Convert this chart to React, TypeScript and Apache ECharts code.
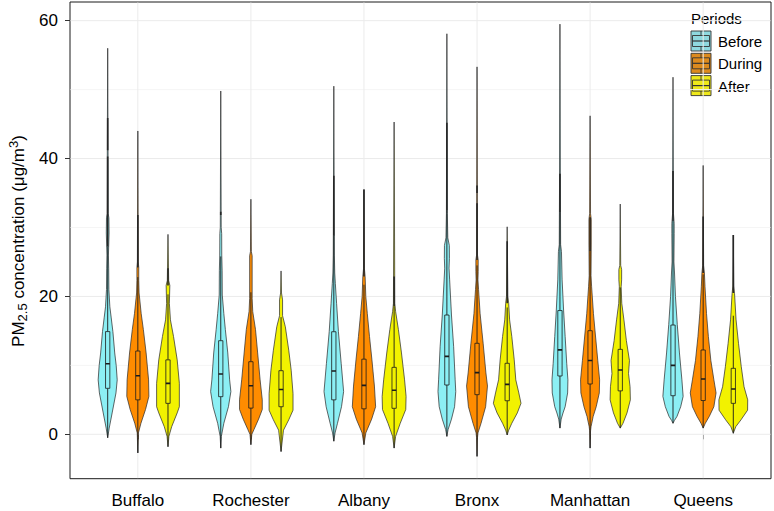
import React, { useEffect, useRef } from 'react';
import * as echarts from 'echarts';

// ---------- data ----------
const cities = ['Buffalo', 'Rochester', 'Albany', 'Bronx', 'Manhattan', 'Queens'];
const periods = ['Before', 'During', 'After'];
const yTicks = [0, 20, 40, 60];
const yMinorTicks = [10, 30, 50];
const xTicks = [1, 2, 3, 4, 5, 6];

// box statistics, one value per city (µg/m3)
const beforeMin = [-0.5, -2.0, -1.0, -0.3, 0.9, 1.6];
const beforeQ1 = [6.67, 5.46, 5.0, 7.15, 8.46, 5.6];
const beforeMedian = [10.24, 8.75, 9.18, 11.3, 12.25, 10.0];
const beforeQ3 = [14.9, 13.58, 14.88, 17.3, 17.95, 15.85];
const beforeWhiskerHigh = [27.2, 25.8, 28.8, 32.5, 32.2, 30.9];
const beforeMax = [56.0, 49.8, 50.5, 58.1, 59.5, 51.8];

const duringMin = [-2.7, -1.5, -1.5, -3.2, -2.0, 0.9];
const duringQ1 = [5.0, 3.8, 3.7, 5.75, 7.3, 4.9];
const duringMedian = [8.5, 7.05, 7.1, 8.95, 10.7, 8.02];
const duringQ3 = [12.08, 10.53, 10.9, 13.2, 15.03, 12.23];
const duringWhiskerHigh = [22.8, 20.6, 21.7, 24.5, 26.6, 23.2];
const duringMax = [44.0, 34.1, 35.5, 53.3, 46.2, 39.0];

const afterMin = [-1.8, -2.5, -2.0, -0.1, 0.9, 0.15];
const afterQ1 = [4.49, 4.0, 3.77, 4.87, 6.3, 4.49];
const afterMedian = [7.39, 6.5, 6.4, 7.25, 9.33, 6.57];
const afterQ3 = [10.8, 9.23, 9.71, 10.3, 12.32, 9.57];
const afterWhiskerHigh = [20.3, 17.0, 18.6, 18.4, 21.3, 17.2];
const afterMax = [29.0, 23.7, 45.3, 30.1, 33.4, 28.9];

// kernel density outlines: [concentration, relative density width]
const beforeDensity = [
  [[-0.5, 0], [0.9, 3.3], [3.1, 9.7], [6.0, 18], [7.9, 20.7], [10, 18.5], [11.8, 15.3], [14.9, 11.3], [17, 7.5], [18.5, 4.7], [21, 2.6], [24, 2.2], [26, 1.6], [29.2, 3], [31.4, 2.6], [32, 1.2], [40, 0.9], [56.0, 0]],
  [[-2.0, 0], [-0.3, 1.3], [1.6, 6.7], [4.0, 16.7], [6.2, 22], [7.9, 19.3], [11.8, 15.3], [15.2, 10], [17.5, 6.7], [20.2, 3.3], [23.8, 3], [26, 2.2], [29.1, 2], [30, 1], [49.8, 0]],
  [[-1.0, 0], [0.2, 2.7], [1.6, 8], [4.0, 16.7], [6.2, 21.3], [10.3, 16], [14.9, 10], [19, 6], [21.9, 3.3], [23.4, 2], [26, 1.2], [50.5, 0]],
  [[-0.3, 0], [0.7, 2.7], [2.2, 10], [4.0, 16.7], [6.2, 19.3], [7.9, 18], [12.7, 14.7], [17.3, 10], [22.4, 6], [24.1, 4.7], [25.5, 5.5], [27.4, 5.3], [28.5, 2], [32, 1], [58.1, 0]],
  [[0.9, 0], [2.2, 2.7], [3.1, 6.7], [4.0, 11.3], [6.0, 16.7], [7.9, 17.3], [10.3, 14.7], [14.2, 11.3], [17.9, 8], [22.4, 4.7], [26.5, 3.3], [27.5, 1.5], [35, 1], [59.5, 0]],
  [[1.6, 0], [2.0, 3], [2.6, 8.7], [4.0, 16.7], [5.5, 22], [7.9, 19.3], [11.8, 14], [15.9, 9.3], [20.0, 5.3], [23.4, 3.3], [25, 2], [29.1, 2.5], [30.6, 2.5], [32, 1], [51.8, 0]],
];
const duringDensity = [
  [[-2.7, 0], [-0.5, 1], [0.2, 1.3], [1.6, 6.7], [3.6, 16.7], [5.5, 24], [7.9, 23.3], [11.8, 18], [15.2, 12], [17.5, 7.3], [20.5, 2.7], [22.3, 2], [24.2, 2], [25, 1], [44.0, 0]],
  [[-1.5, 0], [0, 2], [0.7, 6.7], [2.2, 16.7], [3.6, 24.7], [5.0, 24.7], [7.9, 20], [11.8, 14.7], [15.2, 10], [17.8, 4], [19.7, 2.7], [25.9, 2.7], [26.5, 1], [34.1, 0]],
  [[-1.5, 0], [0.2, 4], [2.2, 16.7], [4.0, 25.3], [7.0, 22.7], [10.8, 17.3], [14.2, 12], [17.5, 7.3], [20.0, 4], [22.9, 2.5], [24, 1], [35.5, 0]],
  [[-3.2, 0], [-0.5, 1], [0.2, 2], [1.6, 8.7], [4.0, 18.7], [7.0, 22.7], [8.9, 19.3], [13.2, 13.3], [17.5, 6.7], [21.0, 3.3], [22.4, 2], [23.6, 2.5], [25.3, 2.5], [26, 1], [53.3, 0]],
  [[-2.0, 0], [0.5, 1], [1.1, 2], [2.6, 6.7], [4.0, 13.3], [6.0, 20], [7.9, 20.7], [10.7, 16.7], [15.0, 10.7], [17.5, 7.3], [21.4, 3.3], [23, 2], [27.6, 2.5], [31.2, 2.5], [32, 1], [46.2, 0]],
  [[0.9, 0], [1.6, 4.7], [2.6, 13.3], [4.0, 23.3], [6.0, 28], [7.9, 23.3], [10.7, 16.7], [14.2, 11.3], [17.5, 7.3], [21.4, 4], [23.4, 2.7], [24.5, 1], [39.0, 0]],
];
const afterDensity = [
  [[-1.8, 0], [-0.3, 2], [1.1, 8], [3.1, 20], [4.0, 24.7], [7.4, 24.7], [10.8, 20], [14.2, 12], [16.6, 5.3], [19, 3], [21.6, 4], [22.3, 1.5], [29.0, 0]],
  [[-2.5, 0], [0.6, 5.3], [2.1, 16.7], [3.5, 26], [5.9, 26], [9.3, 22], [12.2, 16.7], [15.6, 9.3], [17.2, 3.3], [19.5, 3.3], [20.5, 1], [23.7, 0]],
  [[-2.0, 0], [-0.3, 3.3], [1.6, 13.3], [3.6, 25.3], [5.5, 26], [7.9, 22.7], [11.8, 16], [15.2, 9.3], [17.8, 3.3], [19, 1.5], [45.3, 0]],
  [[-0.1, 0], [0.6, 3.3], [1.6, 10], [3.1, 22], [4.5, 30], [6.0, 25.3], [7.9, 18.7], [10.8, 15.3], [14.2, 10], [16.6, 5.3], [19.0, 3.3], [20, 1.5], [30.1, 0]],
  [[0.9, 0], [1.6, 6], [3.1, 14.7], [5.0, 22], [6.9, 21.3], [8.8, 18], [10.7, 20], [13.6, 13.3], [16.6, 8], [19.0, 3.3], [21.4, 2], [22.4, 3], [23.9, 3], [24.5, 1], [33.4, 0]],
  [[0.15, 0], [1.1, 5.3], [2.1, 16.7], [3.5, 31], [5.0, 31.3], [6.9, 23.3], [9.8, 17.3], [13.2, 11.3], [16.6, 6], [20.4, 2.7], [21.5, 1], [28.9, 0]],
];

// runs of overlapping outlier points: [from, to]
const beforeOutliers = [[[27.2, 40.3], [41.2, 45.9]], [[31.8, 32.3]], [[28.8, 37.5]], [[32.5, 45.2]], [[32.2, 37.8]], [[30.9, 38.2]]];
const duringOutliers = [[[24.2, 31.8]], [], [[22.9, 35.5]], [[25.3, 33.5], [35, 36.1]], [[26.6, 31.5]], [[23.4, 31.6]]];
const afterOutliers = [[[21.6, 24.1]], [], [[18.6, 22.9]], [[19, 28]], [], [[20.5, 28.9]]];

// ---------- assembly ----------
const mins = [beforeMin, duringMin, afterMin];
const q1s = [beforeQ1, duringQ1, afterQ1];
const medians = [beforeMedian, duringMedian, afterMedian];
const q3s = [beforeQ3, duringQ3, afterQ3];
const whiskerHighs = [beforeWhiskerHigh, duringWhiskerHigh, afterWhiskerHigh];
const maxes = [beforeMax, duringMax, afterMax];
const densities = [beforeDensity, duringDensity, afterDensity];
const outliers = [beforeOutliers, duringOutliers, afterOutliers];

const FONT = '"Liberation Sans", Arial, Helvetica, sans-serif';
const fills = ['#8CEFF4', '#FF8C00', '#F2F200'];
const keyFills = ['#8FD8DF', '#DC8A1E', '#EEE81A'];
const DODGE = 0.8 / 3;
const DENSITY_SCALE = 0.92 / 113;
const BOX_HALF = 0.019;

export default function App() {
  const ref = useRef<HTMLDivElement>(null);
  useEffect(() => {
    if (!ref.current) return;
    const chart = echarts.init(ref.current, undefined, { renderer: 'svg' });

    const violinData: number[][] = [];
    cities.forEach((_, ci) => {
      periods.forEach((_p, pi) => {
        violinData.push([ci + 1 + (pi - 1) * DODGE, ci, pi]);
      });
    });

    const gridData: number[][] = [
      ...yMinorTicks.map((v) => [0, v, 0]),
      ...yTicks.map((v) => [0, v, 1]),
      ...xTicks.map((v) => [1, v, 1]),
    ];

    const legendChildren: any[] = [
      {
        type: 'text',
        x: 691,
        y: 18,
        style: { text: 'Periods', font: `15px ${FONT}`, fill: '#000', verticalAlign: 'middle', align: 'left' },
      },
    ];
    periods.forEach((p, i) => {
      const y0 = 31 + i * 22.3;
      const x0 = 691;
      legendChildren.push(
        { type: 'rect', shape: { x: x0, y: y0, width: 20, height: 20 }, style: { fill: keyFills[i], stroke: '#333', lineWidth: 0.9 } },
        { type: 'rect', shape: { x: x0 + 1.5, y: y0 + 4.5, width: 17, height: 11 }, style: { fill: keyFills[i], stroke: '#333', lineWidth: 0.9 } },
        { type: 'line', shape: { x1: x0 + 1.5, y1: y0 + 10, x2: x0 + 18.5, y2: y0 + 10 }, style: { stroke: '#333', lineWidth: 1.2 } },
        { type: 'line', shape: { x1: x0 + 10, y1: y0, x2: x0 + 10, y2: y0 + 4.5 }, style: { stroke: '#333', lineWidth: 0.9 } },
        { type: 'line', shape: { x1: x0 + 10, y1: y0 + 15.5, x2: x0 + 10, y2: y0 + 20 }, style: { stroke: '#333', lineWidth: 0.9 } },
        {
          type: 'text',
          x: 718,
          y: y0 + 10.5,
          style: { text: p, font: `15px ${FONT}`, fill: '#000', verticalAlign: 'middle', align: 'left' },
        }
      );
    });

    const option: any = {
      animation: false,
      backgroundColor: '#fff',
      grid: { left: 70, right: 3, top: 2, bottom: 32.3, show: true, borderColor: '#1a1a1a', borderWidth: 1, backgroundColor: 'transparent' },
      xAxis: {
        type: 'value',
        min: 0.4,
        max: 6.6,
        axisLine: { show: false },
        splitLine: { show: false },
        axisTick: { show: true, length: 5, lineStyle: { color: '#333', width: 1 }, customValues: xTicks },
        axisLabel: {
          customValues: xTicks,
          margin: 13,
          fontSize: 17,
          fontFamily: FONT,
          color: '#000',
          formatter: (v: number) => cities[Math.round(v) - 1] ?? '',
        },
      },
      yAxis: {
        type: 'value',
        min: -6.44,
        max: 62.71,
        axisLine: { show: false },
        splitLine: { show: false },
        axisTick: { show: true, length: 5, lineStyle: { color: '#333', width: 1 }, customValues: yTicks },
        axisLabel: {
          customValues: yTicks,
          margin: 12,
          fontSize: 17,
          fontFamily: FONT,
          color: '#000',
          formatter: (v: number) => String(Math.round(v)),
        },
      },
      graphic: [
        {
          type: 'text',
          x: 18,
          y: 241,
          rotation: Math.PI / 2,
          style: {
            text: '{a|PM}{s|2.5}{a| concentration (μg/m}{p|3}{a|)}',
            align: 'center',
            verticalAlign: 'middle',
            fill: '#000',
            rich: {
              a: { fontSize: 17, lineHeight: 22, fontFamily: FONT, fill: '#000' },
              s: { fontSize: 13, lineHeight: 13, fontFamily: FONT, verticalAlign: 'bottom', fill: '#000' },
              p: { fontSize: 13, lineHeight: 13, fontFamily: FONT, verticalAlign: 'top', fill: '#000' },
            },
          },
        },
        { type: 'group', children: legendChildren },
      ],
      series: [
        {
          type: 'custom',
          z: 1,
          silent: true,
          clip: true,
          data: gridData,
          renderItem: (params: any, api: any) => {
            const dir = api.value(0);
            const v = api.value(1);
            const major = api.value(2) === 1;
            const cs = params.coordSys;
            const color = major ? '#EBEBEB' : '#F5F5F5';
            if (dir === 0) {
              const y = api.coord([1, v])[1];
              return { type: 'line', shape: { x1: cs.x + 0.5, y1: y, x2: cs.x + cs.width - 0.5, y2: y }, style: { stroke: color, lineWidth: 1 } };
            }
            const x = api.coord([v, 0])[0];
            return { type: 'line', shape: { x1: x, y1: cs.y + 0.5, x2: x, y2: cs.y + cs.height - 0.5 }, style: { stroke: color, lineWidth: 1 } };
          },
        },
        {
          type: 'custom',
          z: 3,
          silent: true,
          clip: true,
          data: violinData,
          renderItem: (_params: any, api: any) => {
            const x = api.value(0) as number;
            const ci = api.value(1) as number;
            const pi = api.value(2) as number;
            const unitPx = api.size([1, 0])[0];
            const cx = api.coord([x, 0])[0];
            const py = (v: number) => api.coord([x, v])[1];
            const prof = densities[pi][ci];
            const half = (w: number) => (w / 2) * DENSITY_SCALE * unitPx;
            const right = prof.map(([v, w]) => [cx + half(w), py(v)]);
            const left = prof.slice().reverse().map(([v, w]) => [cx - half(w), py(v)]);
            const children: any[] = [];
            children.push({
              type: 'polygon',
              shape: { points: [...right, ...left] },
              style: { fill: fills[pi], stroke: '#333', lineWidth: 0.75 },
            });
            const lo = mins[pi][ci];
            const q1 = q1s[pi][ci];
            const med = medians[pi][ci];
            const q3 = q3s[pi][ci];
            const wh = whiskerHighs[pi][ci];
            children.push({ type: 'line', shape: { x1: cx, y1: py(lo), x2: cx, y2: py(q1) }, style: { stroke: '#1a1a1a', lineWidth: 0.9 } });
            children.push({ type: 'line', shape: { x1: cx, y1: py(q3), x2: cx, y2: py(wh) }, style: { stroke: '#1a1a1a', lineWidth: 0.9 } });
            outliers[pi][ci].forEach(([a, b]) => {
              children.push({ type: 'line', shape: { x1: cx, y1: py(a), x2: cx, y2: py(b) }, style: { stroke: '#262626', lineWidth: 1.6 } });
            });
            const bh = BOX_HALF * unitPx;
            children.push({
              type: 'rect',
              shape: { x: cx - bh, y: py(q3), width: 2 * bh, height: py(q1) - py(q3) },
              style: { fill: fills[pi], stroke: '#1a1a1a', lineWidth: 0.8 },
            });
            children.push({
              type: 'line',
              shape: { x1: cx - bh, y1: py(med), x2: cx + bh, y2: py(med) },
              style: { stroke: '#1a1a1a', lineWidth: 1.6 },
            });
            void maxes[pi][ci];
            return { type: 'group', children };
          },
        },
      ],
    };

    chart.setOption(option);
    return () => chart.dispose();
  }, []);

  return <div ref={ref} style={{ position: 'fixed', left: 0, top: 0, width: 774, height: 511 }} />;
}
